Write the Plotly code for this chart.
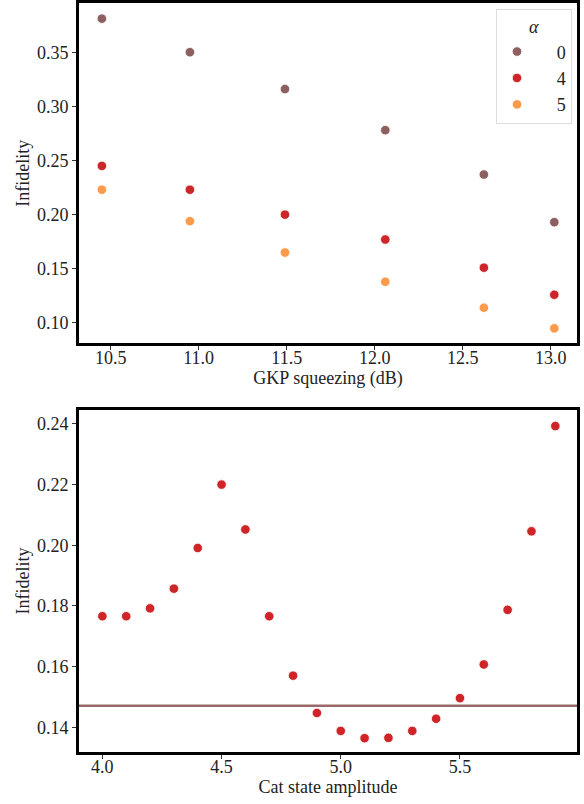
import plotly.graph_objects as go

# ---- Data: top panel ----
gkp_squeezing_db = [10.45, 10.95, 11.49, 12.06, 12.62, 13.02]
alpha_labels = ["0", "4", "5"]
infid_alpha0 = [0.381, 0.350, 0.316, 0.278, 0.237, 0.193]
infid_alpha4 = [0.245, 0.223, 0.200, 0.177, 0.151, 0.126]
infid_alpha5 = [0.223, 0.194, 0.165, 0.138, 0.114, 0.095]

# ---- Data: bottom panel ----
cat_amplitude = [4.0, 4.1, 4.2, 4.3, 4.4, 4.5, 4.6, 4.7, 4.8, 4.9,
                 5.0, 5.1, 5.2, 5.3, 5.4, 5.5, 5.6, 5.7, 5.8, 5.9]
cat_infidelity = [0.1766, 0.1766, 0.1792, 0.1857, 0.1991, 0.2200, 0.2052, 0.1766, 0.1570, 0.1447,
                  0.1388, 0.1364, 0.1365, 0.1388, 0.1428, 0.1496, 0.1607, 0.1787, 0.2046, 0.2393]
reference_infidelity = 0.1471

top_x_ticks = [10.5, 11.0, 11.5, 12.0, 12.5, 13.0]
top_y_ticks = [0.10, 0.15, 0.20, 0.25, 0.30, 0.35]
bot_x_ticks = [4.0, 4.5, 5.0, 5.5]
bot_y_ticks = [0.14, 0.16, 0.18, 0.20, 0.22, 0.24]

colors = ["#8d5f5f", "#cf2428", "#fd9a4b"]
FONT = "Liberation Serif"
W, H = 584, 804

fig = go.Figure()
for lab, ys, c in zip(alpha_labels, [infid_alpha0, infid_alpha4, infid_alpha5], colors):
    fig.add_trace(go.Scatter(
        x=gkp_squeezing_db, y=ys, mode="markers", name="\u2002\u2009\u2009\u2009" + lab,
        marker=dict(color=c, size=9.5, line=dict(color="white", width=0.8)),
        xaxis="x", yaxis="y", showlegend=True))

fig.add_trace(go.Scatter(
    x=cat_amplitude, y=cat_infidelity, mode="markers", showlegend=False,
    marker=dict(color=colors[1], size=9.5, line=dict(color="white", width=0.8)),
    xaxis="x2", yaxis="y2"))

fig.add_shape(type="line", xref="x2 domain", yref="y2", x0=0, x1=1,
              y0=reference_infidelity, y1=reference_infidelity,
              line=dict(color="#9a6a6a", width=2.5), layer="below")

axis_common = dict(showline=True, linecolor="black", linewidth=3, mirror=True,
                   ticks="outside", ticklen=4, tickwidth=1, tickcolor="#333",
                   showgrid=False, zeroline=False,
                   tickfont=dict(family=FONT, size=18, color="#222"))

title_font = dict(family=FONT, size=18, color="#222")

fig.update_layout(
    width=W, height=H,
    margin=dict(l=0, r=0, t=0, b=0),
    paper_bgcolor="white", plot_bgcolor="white",
    font=dict(family=FONT, size=18, color="#222"),
    xaxis=dict(domain=[79/W, 577/W], range=[10.32, 13.149], anchor="y",
               tickvals=top_x_ticks, ticktext=[f"{v:.1f}" for v in top_x_ticks],
               ticklabelstandoff=-8,
               title=dict(text="GKP squeezing (dB)", standoff=3, font=title_font),
               **axis_common),
    yaxis=dict(domain=[1 - 342/H, 1 - 1.5/H], range=[0.0813, 0.395], anchor="x",
               tickvals=top_y_ticks, ticktext=[f"{v:.2f}" for v in top_y_ticks],
               title=dict(text="Infidelity", standoff=3, font=title_font),
               **axis_common),
    xaxis2=dict(domain=[79/W, 577/W], range=[3.902, 5.991], anchor="y2",
                tickvals=bot_x_ticks, ticktext=[f"{v:.1f}" for v in bot_x_ticks],
                ticklabelstandoff=-8,
                title=dict(text="Cat state amplitude", standoff=4, font=title_font),
                **axis_common),
    yaxis2=dict(domain=[1 - 752/H, 1 - 409/H], range=[0.1318, 0.2446], anchor="x2",
                tickvals=bot_y_ticks, ticktext=[f"{v:.2f}" for v in bot_y_ticks],
                title=dict(text="Infidelity", standoff=3, font=title_font),
                **axis_common),
    legend=dict(x=496/W, y=1 - 7/H, xanchor="left", yanchor="top",
                bgcolor="white", bordercolor="#dddddd", borderwidth=1,
                font=dict(family=FONT, size=18, color="#222"),
                title=dict(text="<i>α</i>", side="top center", font=title_font),
                itemwidth=30, tracegroupgap=0),
)

fig.write_html("out.html", config={"displayModeBar": False},
               post_script="document.body.style.margin='0';document.body.style.overflow='hidden';")
